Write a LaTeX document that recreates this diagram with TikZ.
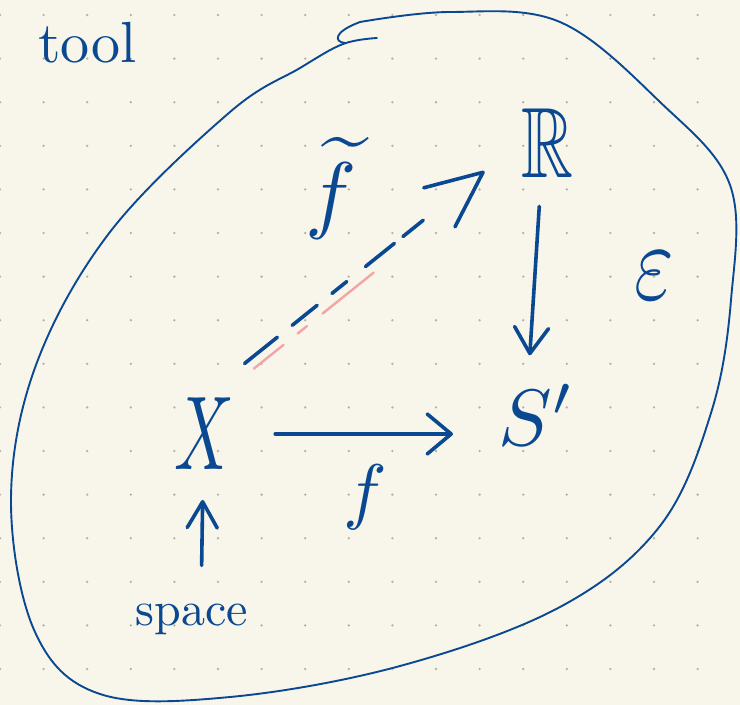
\documentclass[tikz,border=0pt]{standalone}
\usepackage{amssymb}
\usetikzlibrary{arrows.meta}
\definecolor{npaper}{HTML}{F8F6EB}
\definecolor{nink}{HTML}{0A4891}
\definecolor{ndot}{HTML}{B4B2A8}
\definecolor{npink}{HTML}{F4A4A4}

\begin{document}
\begin{tikzpicture}[
  x=1pt, y=-1pt,
  % hand-written letters: scaled glyphs, no padding
  letter/.style = {text=nink, inner sep=0pt, transform shape},
  word/.style   = {letter, anchor=base west},
  map/.style    = {draw=nink, line width=3.6pt, line cap=round, line join=round},
  lift/.style   = {map, dash pattern=on 42pt off 19pt on 32pt off 19pt
                   on 19pt off 24pt on 37pt off 11pt on 26pt off 120pt},
  glow/.style   = {draw=npink, line width=2.4pt, line cap=round,
                   dash pattern=on 38pt off 18pt on 12pt off 20pt on 68pt off 60pt},
  rim/.style    = {draw=nink, line width=1.9pt, line cap=round, line join=round},
]

% ================================================================ paper ===
\fill[npaper] (0,0) rectangle (740,705);
\useasboundingbox (0,0) rectangle (740,705);
\foreach \i in {0,...,16}
  \foreach \j in {0,...,15}
    \fill[ndot] ({43.6*\i},{15+43.6*\j}) circle (1.3pt);

% ============================================================ the blob ===
% the little hook where the stroke starts
\draw[rim] (345,43) .. controls (334,42) and (333,32) .. (360,22);
\draw[rim] plot[smooth, tension=0.6] coordinates {
  (360,22) (450,12) (560,22) (660,102) (730,185) (731,300) (711,413)
  (660,526) (560,607) (400,666) (230,697) (100,694) (35,632) (11,500)
  (36,365) (110,232) (230,112) (300,68) (343,44) (377,38)};

% ============================================================== labels ===
\node[word, scale=5.8] (tool) at (37,62) {tool};
\node[letter, xscale=6.6, yscale=10.5] (X) at (204,434) {$X$};
\node[letter, xscale=7.2, yscale=10] (R) at (547,143) {$\mathbb{R}$};
\node[letter, scale=8, anchor=base west] (S) at (497,445) {$S'$};
\node[letter, xscale=8.5, yscale=11] (eps) at (654,276) {$\varepsilon$};
\node[letter, scale=7.3] (f) at (365,497) {$f$};
\node[letter, scale=8.6, anchor=base] (ft) at (331,222) {$\widetilde{f}$};
\node[word, scale=4.8] (space) at (135,625) {space};

% ============================================================== arrows ===
\draw[map, -{Straight Barb[length=24pt, width=40pt, round]},
      shorten <=40pt, shorten >=44pt] (X.east) -- (X.east -| S.west);
\draw[map, -{Straight Barb[length=26pt, width=34pt, round]},
      shorten <=27pt, shorten >=28pt]
      ([xshift=-6pt]R.south) -- ([xshift=-19pt]R.south |- S.north);
\draw[map, -{Straight Barb[length=26pt, width=30pt, round]},
      shorten <=37pt, shorten >=28pt]
      ([xshift=9pt]space.north) -- ([xshift=11pt]space.north |- X.south);

% the dashed lift, with its pink under-stroke
\draw[glow, shorten <=55pt, shorten >=196pt]
      ([shift={(7,7)}]X.north) -- ([shift={(7,7)}]R.west);
\draw[lift, -{Straight Barb[length=56pt, width=50pt, round]},
      shorten <=52pt, shorten >=45pt] (X.north) -- (R.west);

\end{tikzpicture}
\end{document}
